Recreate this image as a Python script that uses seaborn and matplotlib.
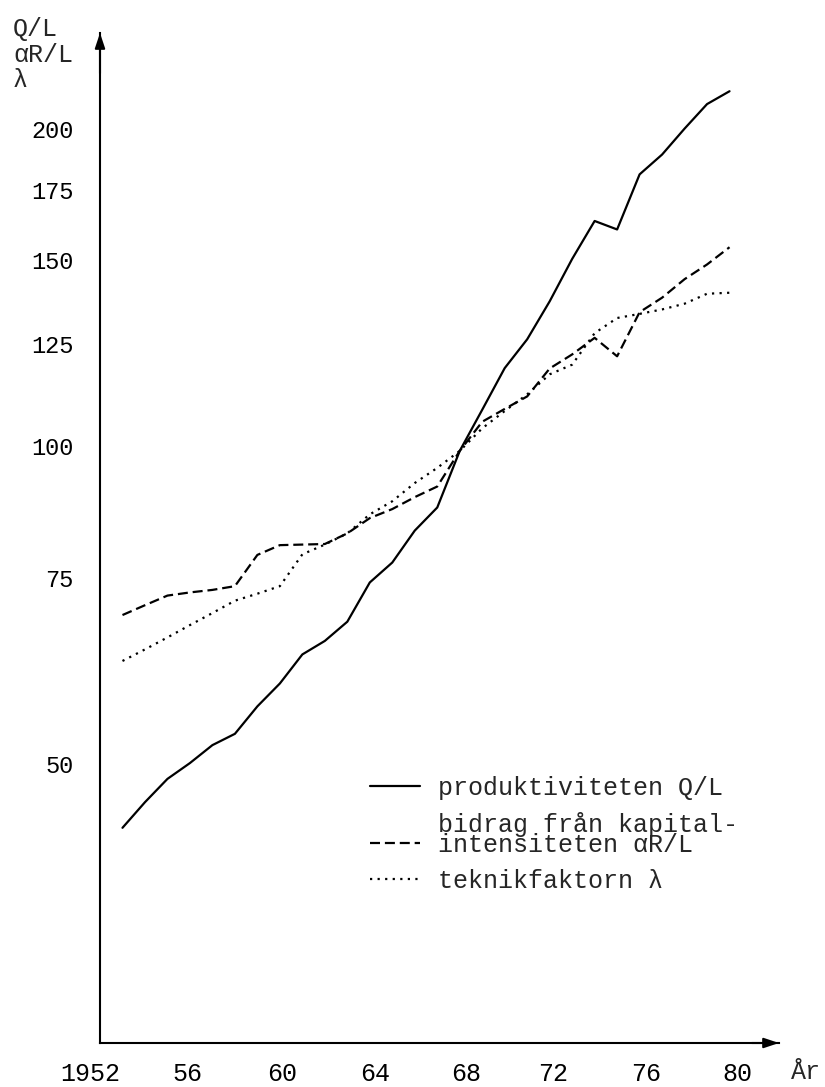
import matplotlib
matplotlib.use("Agg")
import matplotlib.pyplot as plt
import matplotlib.transforms as mtransforms
from matplotlib.legend_handler import HandlerLine2D
import seaborn as sns
import pandas as pd
from matplotlib.ticker import FixedLocator, FixedFormatter, NullLocator

# ---------------- data ----------------
years = list(range(1953, 1981))
produktivitet = [43.5, 46.0, 48.4, 50.1, 52.1, 53.4, 56.7, 59.6, 63.5, 65.4,
                 68.2, 74.3, 77.6, 83.2, 87.5, 99.0, 108.3, 118.6, 126.3, 137.2,
                 150.5, 163.5, 160.5, 181.0, 189.0, 200.0, 211.0, 217.0]
kapital = [69.2, 70.7, 72.2, 72.7, 73.1, 73.7, 78.9, 80.6, 80.7, 80.8,
           82.7, 85.5, 87.2, 89.5, 91.6, 99.0, 105.5, 108.5, 111.5, 118.5,
           122.2, 126.7, 121.7, 134.0, 138.3, 144.0, 148.7, 154.4]
teknik = [62.6, 64.2, 65.9, 67.7, 69.5, 71.4, 72.5, 73.7, 79.0, 80.7,
          82.7, 86.2, 88.7, 92.3, 95.4, 99.0, 104.0, 108.0, 112.0, 117.0,
          119.5, 128.0, 132.3, 133.5, 134.8, 136.5, 139.5, 139.8]
series_labels = ["produktiviteten Q/L",
                 "bidrag från kapital-\nintensiteten \u03b1R/L",
                 "teknikfaktorn \u03bb"]
ytick_values = [50, 75, 100, 125, 150, 175, 200]
ytick_labels = ["50", "75", "100", "125", "150", "175", "200"]
xmajor_values = [1952, 1956, 1960, 1964, 1968, 1972, 1976, 1980]
xmajor_labels = ["1952", "56", "60", "64", "68", "72", "76", "80"]
xminor_values = [1954, 1958, 1962, 1966, 1970, 1974, 1978]

# ---------------- style ----------------
sns.set_style("white")
plt.rcParams["font.family"] = ["Liberation Mono", "DejaVu Sans Mono", "DejaVu Sans"]
FS = 18
FS_Y = 17

W, H = 825, 1087
fig = plt.figure(figsize=(W / 100, H / 100), dpi=100)
ax_left, ax_right = 100 / W, 779 / W
ax_bottom, ax_top = 1 - 1043 / H, 1 - 33 / H
ax = fig.add_axes([ax_left, ax_bottom, ax_right - ax_left, ax_top - ax_bottom])

df = pd.DataFrame({"year": years, "Q": produktivitet, "K": kapital, "T": teknik})

lw = 1.6
sns.lineplot(data=df, x="year", y="Q", ax=ax, color="black", lw=lw,
             label=series_labels[0], linestyle="-")
sns.lineplot(data=df, x="year", y="K", ax=ax, color="black", lw=lw,
             label=series_labels[1], linestyle=(0, (4.5, 2.2)))
sns.lineplot(data=df, x="year", y="T", ax=ax, color="black", lw=lw,
             label=series_labels[2], linestyle=(0, (1.0, 2.4)))

ax.set_yscale("log")
ax.set_xlim(1952, 1982.2)
ax.set_ylim(27.2, 246.4)

ax.yaxis.set_major_locator(FixedLocator(ytick_values))
ax.yaxis.set_major_formatter(FixedFormatter(ytick_labels))
ax.yaxis.set_minor_locator(NullLocator())
ax.xaxis.set_major_locator(FixedLocator(xmajor_values))
ax.xaxis.set_major_formatter(FixedFormatter(xmajor_labels))
ax.xaxis.set_minor_locator(FixedLocator(xminor_values))

ax.set_xlabel("")
ax.set_ylabel("")
for s in ["top", "right"]:
    ax.spines[s].set_visible(False)
for s in ["left", "bottom"]:
    ax.spines[s].set_linewidth(1.5)
    ax.spines[s].set_color("black")

ax.tick_params(axis="y", which="major", direction="in", length=5, width=1.3,
               labelsize=FS_Y, pad=19, colors="black")
ax.tick_params(axis="x", which="both", direction="in", length=5, width=1.3,
               labelsize=FS, pad=14, colors="black")

# small horizontal offsets of the typed x labels (pixels)
x_label_shift = [-10, -3, 2, 5, 6, 3, 7, 8]
fig.canvas.draw()
for lab, dx in zip(ax.get_xticklabels(), x_label_shift):
    lab.set_transform(lab.get_transform() +
                      mtransforms.ScaledTranslation(dx / 100, 0, fig.dpi_scale_trans))

# arrowheads on the axes
for xy, xyt in [((1.0, 0.0), (0.96, 0.0)), ((0.0, 1.0), (0.0, 0.96))]:
    ax.annotate("", xy=xy, xytext=xyt, xycoords="axes fraction",
                arrowprops=dict(arrowstyle="-|>,head_length=0.9,head_width=0.3",
                                color="black", lw=1.5, shrinkA=0, shrinkB=0),
                annotation_clip=False)

# axis titles
for txt, ypx in [("Q/L", 29), ("\u03b1R/L", 55), ("\u03bb", 80)]:
    fig.text(13 / W, 1 - ypx / H, txt, ha="left", va="center", fontsize=FS)
fig.text(806 / W, 1 - 1072 / H, "År", ha="center", va="center", fontsize=FS)


class ShiftedLine(HandlerLine2D):
    def __init__(self, dy=0, **kw):
        super().__init__(**kw)
        self.dy = dy

    def create_artists(self, legend, orig_handle, xdescent, ydescent, width,
                       height, fontsize, trans):
        return super().create_artists(legend, orig_handle, xdescent,
                                      ydescent + self.dy, width, height,
                                      fontsize, trans)


handles, labels = ax.get_legend_handles_labels()
leg = ax.legend(handles, labels, loc="upper left",
                bbox_to_anchor=(370 / W, 1 - 776 / H),
                bbox_transform=fig.transFigure, frameon=False, fontsize=FS,
                handlelength=2.0, handletextpad=0.7, labelspacing=0.48,
                borderaxespad=0, borderpad=0,
                handler_map={handles[1]: ShiftedLine(dy=12)})
for t in leg.get_texts():
    t.set_linespacing(0.78)

fig.savefig("out.png", dpi=100)
